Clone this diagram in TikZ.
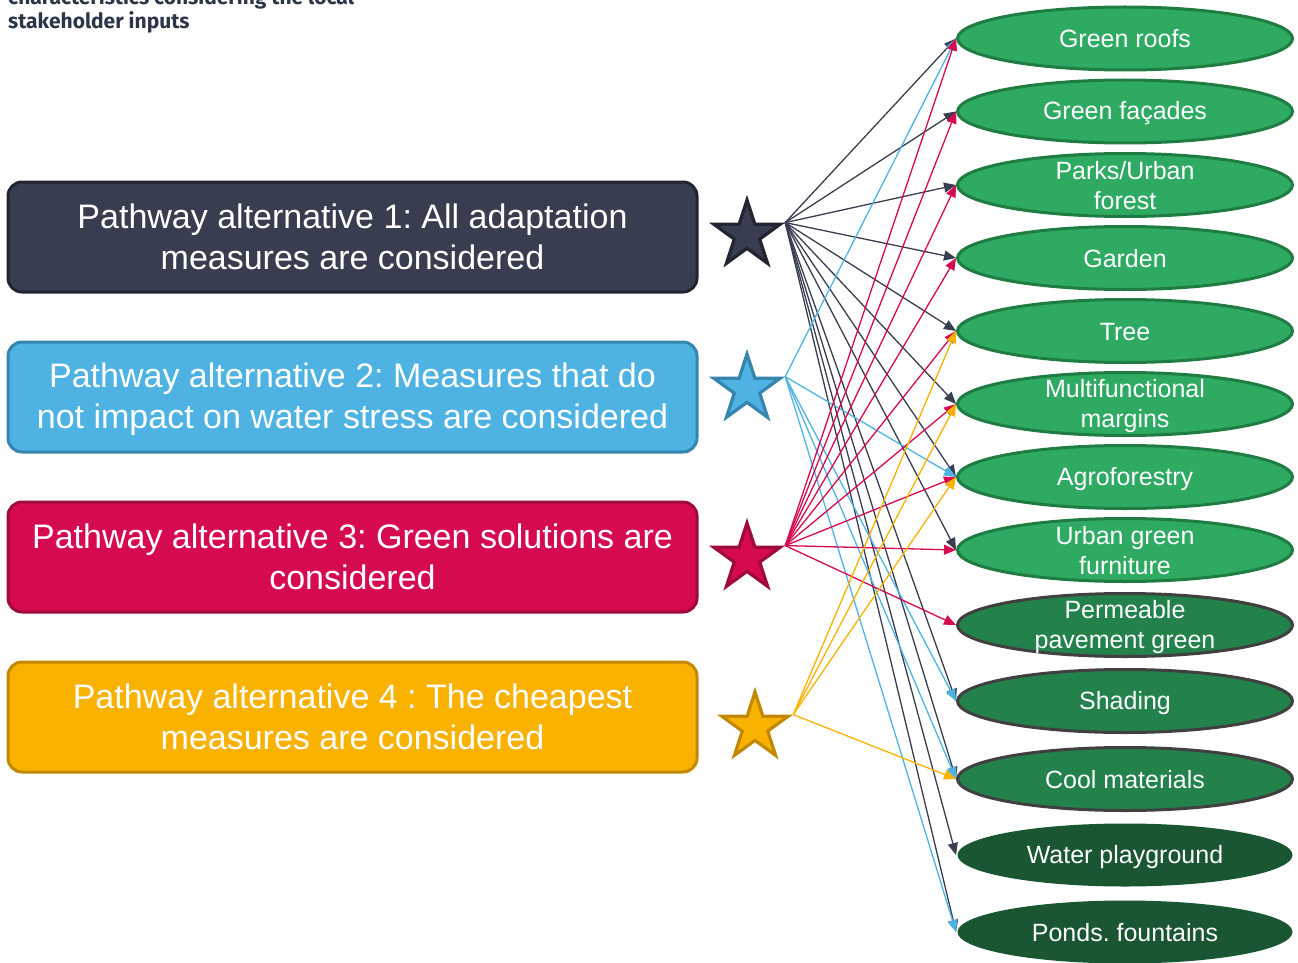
\documentclass[tikz,border=0pt]{standalone}
\usepackage{fontspec}
\setmainfont{Liberation Sans}
\newfontfamily\hdfont{Fira Sans}
\usetikzlibrary{shapes.geometric,arrows.meta}
\frenchspacing
\definecolor{cdark}{HTML}{383D50}
\definecolor{cdarkb}{HTML}{22252F}
\definecolor{cblue}{HTML}{4EB3E3}
\definecolor{cblueb}{HTML}{3585AD}
\definecolor{cred}{HTML}{D60A50}
\definecolor{credb}{HTML}{9E0A3A}
\definecolor{cyel}{HTML}{F9B200}
\definecolor{cyelb}{HTML}{C18800}
\definecolor{gA}{HTML}{2EAA63}
\definecolor{gAb}{HTML}{1F7C43}
\definecolor{gB}{HTML}{23814B}
\definecolor{gBb}{HTML}{404040}
\definecolor{gC}{HTML}{1A5632}
\definecolor{hd}{HTML}{2D3648}
\newcommand\bs{\rule[-6pt]{0pt}{36pt}}
\newcommand\es{\rule[-4pt]{0pt}{26pt}}
\begin{document}
\frenchspacing
\begin{tikzpicture}[x=1pt,y=-1pt,
  pbox/.style={rectangle, rounded corners=14pt, minimum width=689pt, minimum height=110pt,
    line width=3pt, text=white, align=center, inner sep=0pt,
    font=\fontsize{34}{41}\selectfont},
  pstar/.style={star, star points=5, star point ratio=2.618, minimum size=70pt,
    inner sep=0pt, line width=3.2pt},
  meas/.style={ellipse, minimum width=335pt, minimum height=63pt, inner sep=0pt, line width=3pt},
  mA/.style={meas, fill=gA, draw=gAb},
  mB/.style={meas, fill=gB, draw=gBb},
  mC/.style={meas, fill=gC},
  mtxt/.style={text=white, align=center, inner sep=0pt, font=\fontsize{25}{30}\selectfont},
  con/.style={line width=1.3pt, -{Triangle[length=12pt,width=10pt]}},
  hdtxt/.style={anchor=base west, inner sep=0pt, text=hd, font=\hdfont\bfseries\fontsize{21}{24}\selectfont}
]
\useasboundingbox (0,0) rectangle (1298,963);

% heading (cut off at top, as in the reference)
\node[hdtxt] (h1) at (8,5) {characteristics considering the local};
\node[hdtxt] (h2) at (8,29) {stakeholder inputs};

% pathway boxes
\node[pbox, fill=cdark, draw=cdarkb] (p1) at (352.5,237) {Pathway alternative 1: All adaptation\bs\\measures are considered\bs};
\node[pbox, fill=cblue, draw=cblueb] (p2) at (352.5,397) {Pathway alternative 2: Measures that do\bs\\not impact on water stress are considered\bs};
\node[pbox, fill=cred, draw=credb] (p3) at (352.5,557) {Pathway alternative 3: Green solutions are\bs\\considered\bs};
\node[pbox, fill=cyel, draw=cyelb] (p4) at (352.5,717) {Pathway alternative 4 : The cheapest\bs\\measures are considered\bs};

% stars
\node[pstar, fill=cdark, draw=cdarkb] (s1) at (747,235) {};
\node[pstar, fill=cblue, draw=cblueb] (s2) at (747,389) {};
\node[pstar, fill=cred, draw=credb] (s3) at (747,558) {};
\node[pstar, fill=cyel, draw=cyelb] (s4) at (755,727) {};

% measures
\node[mA] (e1) at (1125,38.5) {};
\node[mA] (e2) at (1125,111.5) {};
\node[mA] (e3) at (1125,185) {};
\node[mA] (e4) at (1125,258) {};
\node[mA] (e5) at (1125,331) {};
\node[mA] (e6) at (1125,404) {};
\node[mA] (e7) at (1125,477) {};
\node[mA] (e8) at (1125,550) {};
\node[mB] (e9) at (1125,625) {};
\node[mB] (e10) at (1125,701) {};
\node[mB] (e11) at (1125,779) {};
\node[mC] (e12) at (1125,855) {};
\node[mC] (e13) at (1125,932) {};

\node[mtxt] (t1) at (e1) {Green roofs\es};
\node[mtxt] (t2) at (e2) {Green façades\es};
\node[mtxt] (t3) at (e3) {Parks/Urban\es\\forest\es};
\node[mtxt] (t4) at (e4) {Garden\es};
\node[mtxt] (t5) at (e5) {Tree\es};
\node[mtxt] (t6) at (e6) {Multifunctional\es\\margins\es};
\node[mtxt] (t7) at (e7) {Agroforestry\es};
\node[mtxt] (t8) at (e8) {Urban green\es\\furniture\es};
\node[mtxt] (t9) at (e9) {Permeable\es\\pavement green\es};
\node[mtxt] (t10) at (e10) {Shading\es};
\node[mtxt] (t11) at (e11) {Cool materials\es};
\node[mtxt] (t12) at (e12) {Water playground\es};
\node[mtxt] (t13) at (e13) {Ponds. fountains\es};

% connectors
\foreach \i in {1,2,3,4,5,6,7,8,10,11,12,13}
  \draw[con, cdark] (s1.outer point 5) -- (e\i.west);
\foreach \i in {1,7,10,11,13}
  \draw[con, cblue] (s2.outer point 5) -- (e\i.west);
\foreach \i in {1,2,3,4,5,6,7,8,9}
  \draw[con, cred] (s3.outer point 5) -- (e\i.west);
\foreach \i in {5,6,7,11}
  \draw[con, cyel] (s4.outer point 5) -- (e\i.west);
\end{tikzpicture}
\end{document}
